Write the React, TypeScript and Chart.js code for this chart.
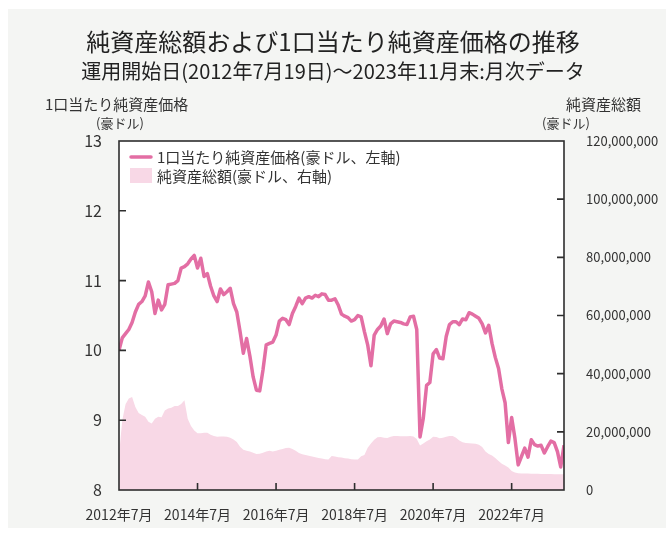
import React, { useEffect, useRef } from "react";
import { Chart, registerables } from "chart.js";

Chart.register(...registerables);

const titleText = "純資産総額および1口当たり純資産価格の推移";
const subtitleText = "運用開始日(2012年7月19日)～2023年11月末:月次データ";
const leftAxisTitle = "1口当たり純資産価格";
const rightAxisTitle = "純資産総額";
const unitText = "(豪ドル)";
const navLegend = "1口当たり純資産価格(豪ドル、左軸)";
const aumLegend = "純資産総額(豪ドル、右軸)";

// x tick labels every 24 months starting 2012年7月 (month index 0)
const xTickLabels = ["2012年7月", "2014年7月", "2016年7月", "2018年7月", "2020年7月", "2022年7月"];
const xTickIndex = [0, 24, 48, 72, 96, 120];
const leftTicks = [8, 9, 10, 11, 12, 13];
const rightTicks = [0, 20000000, 40000000, 60000000, 80000000, 100000000, 120000000];

// 1口当たり純資産価格 (豪ドル), monthly 2012/7 .. 2023/11
const navValues = [
  10.0, 10.18, 10.24, 10.3, 10.4, 10.55, 10.66, 10.7, 10.78, 10.98,
  10.84, 10.53, 10.72, 10.58, 10.66, 10.94, 10.95, 10.96, 11.0, 11.18,
  11.2, 11.24, 11.31, 11.36, 11.18, 11.32, 11.06, 11.1, 10.92, 10.78,
  10.7, 10.88, 10.8, 10.84, 10.89, 10.67, 10.55, 10.27, 9.96, 10.17,
  9.92, 9.62, 9.43, 9.42, 9.72, 10.08, 10.1, 10.12, 10.22, 10.42,
  10.46, 10.44, 10.37, 10.53, 10.63, 10.75, 10.67, 10.75, 10.77, 10.75,
  10.79, 10.77, 10.81, 10.8, 10.72, 10.72, 10.74, 10.65, 10.52, 10.49,
  10.47, 10.42, 10.44, 10.5, 10.48, 10.27, 10.08, 9.78, 10.22, 10.3,
  10.35, 10.45, 10.24, 10.38, 10.42, 10.41, 10.4, 10.38, 10.37, 10.48,
  10.49, 10.3, 8.76, 9.03, 9.5, 9.54, 9.95, 10.01, 9.89, 9.88,
  10.2, 10.37, 10.41, 10.41, 10.37, 10.45, 10.44, 10.54, 10.52, 10.49,
  10.46, 10.38, 10.25, 10.36, 10.1, 9.9, 9.74, 9.45, 9.25, 8.68,
  9.04, 8.74, 8.36, 8.48, 8.6, 8.47, 8.72, 8.65, 8.63, 8.64,
  8.53, 8.62, 8.7, 8.68, 8.55, 8.33, 8.64,
];

// 純資産総額 (百万豪ドル), monthly 2012/7 .. 2023/11
const aumMillions = [
  12, 24, 29.5, 31.5, 32, 28.5, 26.5, 25.8, 25.2, 23.5,
  22.9, 24.5, 25.2, 25.0, 27.3, 28.0, 28.3, 28.9, 28.9, 29.6,
  30.9, 24.5, 22.0, 20.5, 19.5, 19.5, 19.7, 19.7, 19.0, 18.6,
  18.3, 18.4, 18.4, 18.3, 18.0, 17.4, 16.5, 14.9, 13.8, 13.5,
  13.2, 12.8, 12.4, 12.5, 12.8, 13.2, 13.5, 13.2, 13.5, 13.8,
  14.1, 14.4, 14.5, 14.1, 13.5, 12.7, 12.3, 12.0, 11.8, 11.5,
  11.3, 11.0, 10.8, 10.6, 10.5, 11.7, 11.5, 11.3, 11.2, 10.9,
  10.8, 10.6, 10.5, 10.5, 11.6, 12.0, 14.5, 16.0, 17.3, 18.1,
  18.2, 18.0, 17.9, 18.3, 18.6, 18.6, 18.5, 18.5, 18.5, 18.6,
  18.4, 17.5, 15.3, 16.0, 16.8, 17.4, 18.3, 18.2, 17.8, 18.0,
  18.3, 18.6, 18.6, 18.0, 17.0, 16.4, 16.2, 16.1, 16.0, 15.9,
  15.6, 14.8, 13.2, 12.4, 11.9, 11.0, 10.0, 9.0, 8.4, 7.7,
  6.5, 6.0, 5.8, 5.7, 5.7, 5.7, 5.6, 5.6, 5.6, 5.5,
  5.5, 5.5, 5.5, 5.4, 5.4, 5.4, 5.4,
];

const FONT = "'Noto Sans CJK JP', 'Noto Sans', sans-serif";
const TEXT = "#333333";
const LINE = "#e36ea4";
const AREA = "#f8d8e6";
const FRAME = "#2e2e2e";

const decorPlugin = {
  id: "decor",
  beforeDraw(chart: any) {
    const { ctx, chartArea } = chart;
    ctx.save();
    ctx.fillStyle = "#ffffff";
    ctx.fillRect(chartArea.left, chartArea.top, chartArea.right - chartArea.left, chartArea.bottom - chartArea.top);
    ctx.restore();
  },
  afterDraw(chart: any) {
    const { ctx, chartArea, scales } = chart;
    const { left, right, top, bottom } = chartArea;
    ctx.save();
    // titles
    ctx.fillStyle = "#222222";
    ctx.textAlign = "center";
    ctx.textBaseline = "middle";
    ctx.font = `24px ${FONT}`;
    ctx.fillText(titleText, 333, 42);
    ctx.font = `20px ${FONT}`;
    ctx.fillText(subtitleText, 333, 71);
    // axis titles
    ctx.fillStyle = TEXT;
    ctx.font = `15px ${FONT}`;
    ctx.textAlign = "left";
    ctx.fillText(leftAxisTitle, 45, 104);
    ctx.textAlign = "right";
    ctx.fillText(rightAxisTitle, 641, 104);
    ctx.font = `13px ${FONT}`;
    ctx.textAlign = "center";
    ctx.fillText(unitText, 120, 123);
    ctx.fillText(unitText, 566, 123);

    // frame
    ctx.strokeStyle = FRAME;
    ctx.lineWidth = 1.6;
    ctx.strokeRect(left, top, right - left, bottom - top);
    // inward ticks
    const tl = 7;
    ctx.beginPath();
    leftTicks.slice(1, -1).forEach((v) => {
      const y = scales.y.getPixelForValue(v);
      ctx.moveTo(left, y);
      ctx.lineTo(left + tl, y);
    });
    rightTicks.slice(1, -1).forEach((v) => {
      const y = scales.y1.getPixelForValue(v);
      ctx.moveTo(right, y);
      ctx.lineTo(right - tl, y);
    });
    xTickIndex.slice(1).forEach((v) => {
      const x = scales.x.getPixelForValue(v);
      ctx.moveTo(x, bottom);
      ctx.lineTo(x, bottom - tl);
    });
    ctx.stroke();

    // legend
    ctx.font = `15px ${FONT}`;
    ctx.textAlign = "left";
    ctx.fillStyle = TEXT;
    ctx.strokeStyle = LINE;
    ctx.lineWidth = 3.5;
    ctx.lineCap = "round";
    ctx.beginPath();
    ctx.moveTo(left + 12, top + 16);
    ctx.lineTo(left + 32, top + 16);
    ctx.stroke();
    ctx.fillText(navLegend, left + 38, top + 16);
    ctx.fillStyle = AREA;
    ctx.fillRect(left + 11, top + 27, 22, 15);
    ctx.fillStyle = TEXT;
    ctx.fillText(aumLegend, left + 38, top + 35);
    ctx.restore();
  },
};

export default function App() {
  const ref = useRef<HTMLCanvasElement | null>(null);

  useEffect(() => {
    if (!ref.current) return;
    const navData = navValues.map((v, i) => ({ x: i, y: v }));
    const aumData = aumMillions.map((v, i) => ({ x: i, y: v * 1000000 }));
    const chart = new Chart(ref.current, {
      type: "line",
      data: {
        datasets: [
          {
            label: navLegend,
            data: navData,
            yAxisID: "y",
            borderColor: LINE,
            borderWidth: 3.5,
            pointRadius: 0,
            tension: 0,
            fill: false,
            order: 0,
            borderJoinStyle: "round",
          },
          {
            label: aumLegend,
            data: aumData,
            yAxisID: "y1",
            borderColor: AREA,
            backgroundColor: AREA,
            borderWidth: 0,
            pointRadius: 0,
            tension: 0,
            fill: "origin",
            order: 1,
          },
        ],
      },
      options: {
        responsive: false,
        animation: false,
        events: [],
        layout: { padding: { top: 141, left: 0, right: 0, bottom: 0 } },
        plugins: {
          legend: { display: false },
          title: { display: false },
          tooltip: { enabled: false },
        },
        scales: {
          x: {
            type: "linear",
            min: 0,
            max: navValues.length - 1,
            grid: { display: false },
            border: { display: false },
            afterBuildTicks: (s: any) => {
              s.ticks = xTickIndex.map((v) => ({ value: v }));
            },
            afterFit: (s: any) => {
              s.height = 45;
            },
            ticks: {
              padding: 8,
              maxRotation: 0,
              autoSkip: false,
              color: TEXT,
              font: { family: FONT, size: 14 },
              callback: (v: any) => {
                const k = xTickIndex.indexOf(Number(v));
                return k >= 0 ? xTickLabels[k] : "";
              },
            },
          },
          y: {
            type: "linear",
            position: "left",
            min: 8,
            max: 13,
            grid: { display: false },
            border: { display: false },
            afterBuildTicks: (s: any) => {
              s.ticks = leftTicks.map((v) => ({ value: v }));
            },
            afterFit: (s: any) => {
              s.width = 119;
            },
            ticks: {
              padding: 9,
              color: TEXT,
              font: { family: FONT, size: 16 },
              callback: (v: any) => String(v),
            },
          },
          y1: {
            type: "linear",
            position: "right",
            min: 0,
            max: 120000000,
            grid: { display: false },
            border: { display: false },
            afterBuildTicks: (s: any) => {
              s.ticks = rightTicks.map((v) => ({ value: v }));
            },
            afterFit: (s: any) => {
              s.width = 102;
            },
            ticks: {
              padding: 14,
              color: TEXT,
              font: { family: FONT, size: 13 },
              callback: (v: any) => Number(v).toLocaleString("en-US"),
            },
          },
        },
      },
      plugins: [decorPlugin],
    });
    return () => chart.destroy();
  }, []);

  return (
    <div style={{ position: "absolute", left: 0, top: 0, width: 666, height: 535, background: "#ffffff" }}>
      <div style={{ position: "absolute", left: 8, top: 9, width: 658, height: 519, background: "#f4f5f3" }} />
      <canvas ref={ref} width={666} height={535} style={{ position: "absolute", left: 0, top: 0, display: "block" }} />
    </div>
  );
}
